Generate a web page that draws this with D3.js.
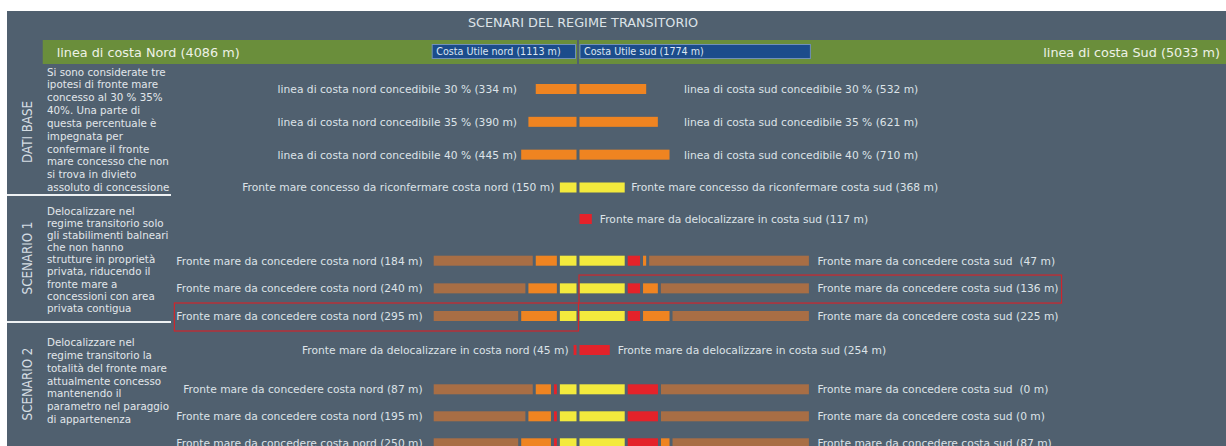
<!DOCTYPE html>
<html>
<head>
<meta charset="utf-8">
<script src="https://cdn.jsdelivr.net/npm/d3@7"></script>
<style>
  body { margin: 0; background: #fff; }
  svg { display: block; font-family: "DejaVu Sans", Verdana, sans-serif; }
  text { white-space: pre; }
</style>
</head>
<body>
<svg id="chart" width="1226" height="446"></svg>
<script>
// ── Data (metres) ──
const coastNord = 4086, coastSud = 5033;
const utileNord = 1113, utileSud = 1774;

const pctLabels = ['30 %', '35 %', '40 %'];
const concNord = [334, 390, 445];
const concSud  = [532, 621, 710];
const confNord = 150, confSud = 368;

// scenario 1
const s1DelocSud = 117;
const s1ConcNord = [184, 240, 295];
const s1ConcSud  = [47, 136, 225];
const s1SudLabel = [' (47 m)', '(136 m)', '(225 m)'];

// scenario 2 (drawn lengths + printed labels)
const s2DelocNord = 45, s2DelocSud = 254;
const s2ConcNord = [139, 195, 250];
const s2NordLabel = ['(87 m)', '(195 m)', '(250 m)'];
const s2ConcSud = [0, 0, 88];
const s2SudLabel = [' (0 m)', '(0 m)', '(87 m)'];

const descBase = ['Si sono considerate tre', 'ipotesi di fronte mare', 'concesso al 30 % 35%',
  '40%. Una parte di', 'questa percentuale è', 'impegnata per', 'confermare il fronte',
  'mare concesso che non', 'si trova in divieto', 'assoluto di concessione'];
const descS1 = ['Delocalizzare nel', 'regime transitorio solo', 'gli stabilimenti balneari',
  'che non hanno', 'strutture in proprietà', 'privata, riducendo il', 'fronte mare a',
  'concessioni con area', 'privata contigua'];
const descS2 = ['Delocalizzare nel', 'regime transitorio la', 'totalità del fronte mare',
  'attualmente concesso', 'mantenendo il', 'parametro nel paraggio', 'di appartenenza'];

// ── Styles ──
const colors = { conf: '#f3ea3d', conc: '#ef8421', deloc: '#e4222a', rest: '#a86e45' };
const txt = '#dde3e8';
const cx = 578, gap = 1.5, barH = 10;

const svg = d3.select('#chart');
const x = d3.scaleLinear().domain([0, 1000]).range([0, 131]);

// panel
svg.append('rect').attr('x', 7).attr('y', 11).attr('width', 1219).attr('height', 435)
  .attr('fill', '#50606f');

svg.append('text').attr('x', 583).attr('y', 27).attr('text-anchor', 'middle')
  .attr('fill', txt).style('font-size', '12.8px').text('SCENARI DEL REGIME TRANSITORIO');

// ── Coast band ──
svg.append('rect').attr('x', cx - x(coastNord)).attr('y', 40)
  .attr('width', x(coastNord) - 1).attr('height', 24).attr('fill', '#6a8e3b');
svg.append('rect').attr('x', cx + 1).attr('y', 40)
  .attr('width', x(coastSud) - 1).attr('height', 24).attr('fill', '#6a8e3b');

svg.append('text').attr('x', cx - x(coastNord) + 14).attr('y', 56.5)
  .attr('fill', '#eef2e6').style('font-size', '12.8px').text(`linea di costa Nord (${coastNord} m)`);
svg.append('text').attr('x', 1220).attr('y', 56.5).attr('text-anchor', 'end')
  .attr('fill', '#eef2e6').style('font-size', '12.8px').text(`linea di costa Sud (${coastSud} m)`);

svg.append('rect').attr('x', cx - x(utileNord)).attr('y', 44.5)
  .attr('width', x(utileNord) - 2.5).attr('height', 14)
  .attr('fill', '#1c4c8b').attr('stroke', '#7090b8').attr('stroke-width', 1);
svg.append('rect').attr('x', cx + 2).attr('y', 44.5)
  .attr('width', x(utileSud) - 2).attr('height', 14)
  .attr('fill', '#1c4c8b').attr('stroke', '#7090b8').attr('stroke-width', 1);
svg.append('text').attr('x', cx - x(utileNord) + 4).attr('y', 55)
  .attr('fill', '#dde6f2').style('font-size', '9.6px').text(`Costa Utile nord (${utileNord} m)`);
svg.append('text').attr('x', cx + 6).attr('y', 55)
  .attr('fill', '#dde6f2').style('font-size', '9.6px').text(`Costa Utile sud (${utileSud} m)`);

// ── Helpers ──
function bar(y, side, segs) {
  let cum = 0;
  segs.forEach(s => {
    const a = cum, b = cum + s.v;
    cum = b;
    if (s.v <= 0) return;
    const p0 = x(a) + gap, p1 = x(b) - gap;
    const w = Math.max(p1 - p0, 1.5);
    svg.append('rect')
      .attr('x', side < 0 ? cx - p0 - w : cx + p0)
      .attr('y', y - barH / 2).attr('width', w).attr('height', barH)
      .attr('fill', colors[s.k]);
  });
  return x(cum) - gap;
}

function label(xp, y, anchor, str) {
  return svg.append('text').attr('x', xp).attr('y', y + 3.9)
    .attr('text-anchor', anchor).attr('fill', txt)
    .style('font-size', '10.7px').text(str);
}

const withRest = (segs, total) =>
  segs.concat([{ k: 'rest', v: total - d3.sum(segs, d => d.v) }]);

// ── Dati base ──
const baseY = d3.scalePoint().domain([0, 1, 2, 3]).range([89, 187.5]);
pctLabels.forEach((p, i) => {
  const y = baseY(i);
  bar(y, -1, [{ k: 'conc', v: concNord[i] }]);
  bar(y, 1, [{ k: 'conc', v: concSud[i] }]);
  label(cx - 61, y, 'end', `linea di costa nord concedibile ${p} (${concNord[i]} m)`);
  label(cx + 106, y, 'start', `linea di costa sud concedibile ${p} (${concSud[i]} m)`);
});
{
  const y = baseY(3);
  const n = bar(y, -1, [{ k: 'conf', v: confNord }]);
  const s = bar(y, 1, [{ k: 'conf', v: confSud }]);
  label(cx - n - 5.5, y, 'end', `Fronte mare concesso da riconfermare costa nord (${confNord} m)`);
  label(cx + s + 6.5, y, 'start', `Fronte mare concesso da riconfermare costa sud (${confSud} m)`);
}

// ── Scenario 1 ──
{
  const y = 219;
  const s = bar(y, 1, [{ k: 'deloc', v: s1DelocSud }]);
  label(cx + s + 8, y, 'start', `Fronte mare da delocalizzare in costa sud (${s1DelocSud} m)`);
}
const s1Y = d3.scalePoint().domain([0, 1, 2]).range([260.7, 316]);
const s1Labels = [];
s1ConcNord.forEach((v, i) => {
  const y = s1Y(i);
  const n = bar(y, -1, withRest([{ k: 'conf', v: confNord }, { k: 'conc', v: v }], utileNord));
  const s = bar(y, 1, withRest([{ k: 'conf', v: confSud }, { k: 'deloc', v: s1DelocSud },
    { k: 'conc', v: s1ConcSud[i] }], utileSud));
  s1Labels.push({
    n: label(cx - n - 11, y, 'end', `Fronte mare da concedere costa nord (${v} m)`),
    s: label(cx + s + 8.5, y, 'start', `Fronte mare da concedere costa sud ${s1SudLabel[i]}`)
  });
});

// red highlight boxes
{
  const y2 = s1Y(1), b2 = s1Labels[1].s.node().getBBox();
  svg.append('rect').attr('x', cx + 1).attr('y', y2 - 13.3)
    .attr('width', b2.x + b2.width + 3 - cx - 1).attr('height', 28)
    .attr('fill', 'none').attr('stroke', '#cf262c').attr('stroke-width', 1.2);
  const y3 = s1Y(2), b3 = s1Labels[2].n.node().getBBox();
  svg.append('rect').attr('x', b3.x - 2).attr('y', y3 - 13)
    .attr('width', cx + 0.5 - b3.x + 2).attr('height', 28)
    .attr('fill', 'none').attr('stroke', '#cf262c').attr('stroke-width', 1.2);
}

// ── Scenario 2 ──
{
  const y = 350;
  const n = bar(y, -1, [{ k: 'deloc', v: s2DelocNord }]);
  const s = bar(y, 1, [{ k: 'deloc', v: s2DelocSud }]);
  label(cx - n - 5, y, 'end', `Fronte mare da delocalizzare in costa nord (${s2DelocNord} m)`);
  label(cx + s + 8, y, 'start', `Fronte mare da delocalizzare in costa sud (${s2DelocSud} m)`);
}
const s2Y = d3.scalePoint().domain([0, 1, 2]).range([389.3, 443.3]);
s2ConcNord.forEach((v, i) => {
  const y = s2Y(i);
  const n = bar(y, -1, withRest([{ k: 'conf', v: confNord }, { k: 'deloc', v: s2DelocNord },
    { k: 'conc', v: v }], utileNord));
  const s = bar(y, 1, withRest([{ k: 'conf', v: confSud }, { k: 'deloc', v: s2DelocSud },
    { k: 'conc', v: s2ConcSud[i] }], utileSud));
  label(cx - n - 11, y, 'end', `Fronte mare da concedere costa nord ${s2NordLabel[i]}`);
  label(cx + s + 8.5, y, 'start', `Fronte mare da concedere costa sud ${s2SudLabel[i]}`);
});

// ── Left column ──
function desc(lines, y0, step) {
  svg.append('g').selectAll('text').data(lines).enter().append('text')
    .attr('x', 47).attr('y', (d, i) => y0 + i * step)
    .attr('fill', '#e2e7eb').style('font-size', '10.3px').text(d => d);
}
desc(descBase, 75.6, 12.84);
desc(descS1, 214.8, 12.13);
desc(descS2, 346.2, 12.8);

[['DATI BASE', 132], ['SCENARIO 1', 258], ['SCENARIO 2', 384]].forEach(([t, y]) => {
  svg.append('text')
    .attr('transform', `translate(31.5,${y}) rotate(-90) scale(0.82,1)`)
    .attr('text-anchor', 'middle').attr('fill', '#d5dde3')
    .style('font-size', '14.5px').text(t);
});

[195, 322].forEach(y => {
  svg.append('line').attr('x1', 7).attr('x2', 171).attr('y1', y).attr('y2', y)
    .attr('stroke', '#eef1f3').attr('stroke-width', 2);
});
</script>
</body>
</html>
